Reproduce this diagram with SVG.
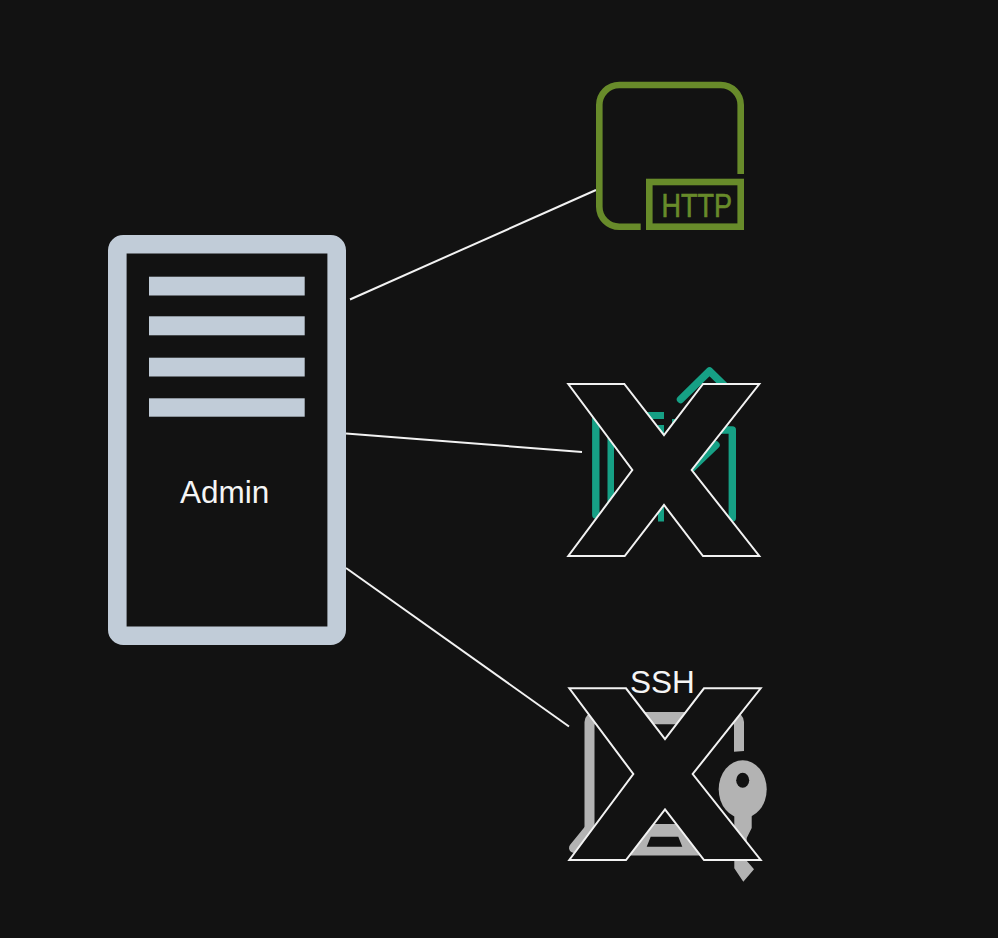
<svg xmlns="http://www.w3.org/2000/svg" width="998" height="938" viewBox="0 0 998 938">
<style>
.lbl{font-family:"Liberation Sans",Arial,sans-serif;font-size:31.5px;fill:#f5f5f5}
.bar{fill:#c1ccd8}
.x{fill:#121212;stroke:#f2f2f2;stroke-width:2;stroke-linejoin:miter}
.conn{stroke:#f2f2f2;stroke-width:2;fill:none}
.http{fill:none;stroke:#688b2a;stroke-width:6.6}
.teal{fill:none;stroke:#16a085;stroke-width:7.4;stroke-linecap:round;stroke-linejoin:round}
.tealf{fill:#16a085}
.gray{fill:#b3b3b3}
.grays{fill:none;stroke:#b3b3b3;stroke-width:10;stroke-linecap:round}
</style>
<rect width="998" height="938" fill="#121212"/>
<g id="connectors">
<line class="conn" x1="350" y1="299.500" x2="596" y2="190"/>
<line class="conn" x1="346" y1="433.500" x2="582" y2="452"/>
<line class="conn" x1="346" y1="568" x2="569" y2="726.500"/>
</g>
<g id="admin">
<rect x="117.300" y="244.300" width="219.400" height="391.400" rx="6" fill="none" stroke="#c1ccd8" stroke-width="18.600"/>
<rect class="bar" x="149" y="276.700" width="155.700" height="18.800"/>
<rect class="bar" x="149" y="316.300" width="155.700" height="19"/>
<rect class="bar" x="149" y="357.700" width="155.700" height="18.800"/>
<rect class="bar" x="149" y="398.300" width="155.700" height="18.400"/>
<text class="lbl" x="180" y="503">Admin</text>
</g>
<g id="http">
<path class="http" d="M740.700 174V105a20 20 0 0 0-20-20H619.300a20 20 0 0 0-20 20V206.700a20 20 0 0 0 20 20H640.700"/>
<rect class="http" x="649.300" y="182" width="91.400" height="44.700"/>
<text x="661.500" y="217.300" font-family="'Liberation Sans Narrow','Liberation Sans',sans-serif" font-size="34" fill="#688b2a" stroke="#688b2a" stroke-width="0.700" textLength="70.500" lengthAdjust="spacingAndGlyphs">HTTP</text>
</g>
<g id="teal-node">
<path class="teal" d="M680.500 399.500L709.500 371L735 396"/>
<path class="teal" d="M595.800 418V515"/>
<path class="tealf" d="M607.500 430H614V505H607.500Z"/>
<path class="teal" d="M716 445L690 470"/>
<path class="teal" d="M700 430H732.300V518"/>
<path class="tealf" d="M636 400L647 412H664V419H640ZM658 425H664V440H658ZM658 505H664V521.500H658ZM672 419H676V426H672Z"/>
<path class="x" d="M568.300 384H624.300L664 435L703 384H759.300L691.700 470L759.300 556H703L664 505L624.700 556H568.300L632.300 470Z"/>
</g>
<g id="ssh-node">
<path class="grays" d="M574 848L589.500 829"/>
<path class="gray" d="M584.500 832V722a10 10 0 0 1 10-10H734a10 10 0 0 1 10 10V751L734 751.800V724.300H594.500V832Z"/>
<path class="gray" fill-rule="evenodd" d="M645 824H690L705 855.500H625ZM646.700 846.700H682.300L678.300 836.700H650.700Z"/>
<ellipse class="gray" cx="742.700" cy="789.300" rx="24" ry="29"/>
<ellipse cx="742.700" cy="780.300" rx="6.500" ry="7.500" fill="#121212"/>
<path class="gray" d="M734.300 810H751.700V828L746.700 838L746.700 860.700L754 869.300L743.300 881.700L734.300 868.300Z"/>
<path class="x" d="M569.300 688.300H626L665 739L704 688.300H760.700L692.700 774L760.700 860H704L665 809.300L626 860H569.300L633.300 774Z"/>
<text class="lbl" x="630" y="693">SSH</text>
</g>
</svg>
